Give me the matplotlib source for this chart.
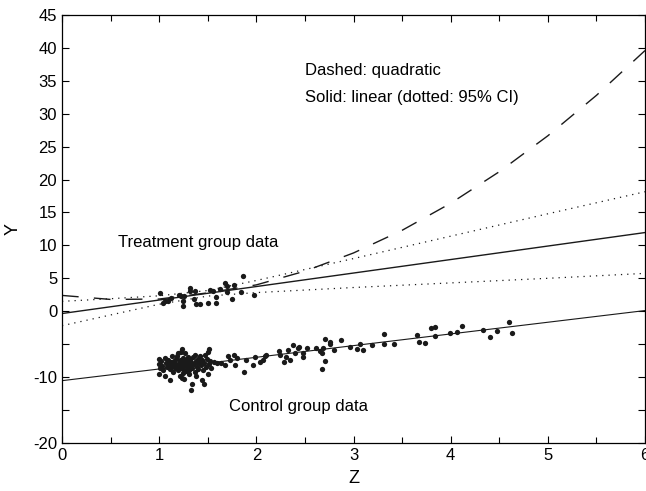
import numpy as np
import matplotlib
matplotlib.use("Agg")
import matplotlib.pyplot as plt
from matplotlib.ticker import MultipleLocator, FuncFormatter

plt.rcParams['font.family'] = ['Liberation Sans', 'DejaVu Sans']

# treatment group data (x, y)
treat_x = [1.01, 1.04, 1.06, 1.09, 1.12, 1.20, 1.22, 1.24, 1.25, 1.26,
           1.32, 1.32, 1.37, 1.36, 1.38, 1.42, 1.50, 1.52, 1.55, 1.58,
           1.58, 1.63, 1.68, 1.70, 1.70, 1.75, 1.77, 1.84, 1.86, 1.98]
treat_y = [2.7, 1.3, 1.6, 1.5, 2.0, 2.5, 2.3, 1.5, 0.8, 2.3,
           3.6, 3.1, 3.0, 1.8, 1.1, 1.1, 1.3, 3.2, 3.0, 2.2,
           1.3, 3.3, 4.3, 3.8, 2.9, 1.9, 4.0, 2.9, 5.4, 2.4]

# control group data (x, y)
ctrl_x = [1.00, 1.00, 1.01, 1.00, 1.02, 1.03, 1.04, 1.06, 1.06, 1.07,
          1.08, 1.09, 1.10, 1.11, 1.11, 1.12, 1.13, 1.13, 1.14, 1.15,
          1.16, 1.16, 1.17, 1.18, 1.18, 1.19, 1.19, 1.20, 1.20, 1.21,
          1.21, 1.22, 1.22, 1.23, 1.23, 1.23, 1.24, 1.24, 1.25, 1.25,
          1.26, 1.26, 1.27, 1.27, 1.28, 1.28, 1.29, 1.30, 1.30, 1.31,
          1.31, 1.32, 1.32, 1.33, 1.33, 1.34, 1.34, 1.35, 1.36, 1.37,
          1.37, 1.38, 1.38, 1.39, 1.40, 1.40, 1.41, 1.42, 1.43, 1.44,
          1.44, 1.45, 1.46, 1.46, 1.47, 1.48, 1.49, 1.50, 1.50, 1.51,
          1.51, 1.52, 1.53, 1.56,
          1.59, 1.64, 1.68, 1.71, 1.73, 1.77, 1.80, 1.78, 1.87, 1.89,
          1.97, 1.99, 2.04, 2.07, 2.09, 2.10, 2.23, 2.24, 2.28, 2.31,
          2.33, 2.35, 2.38, 2.40, 2.43, 2.44, 2.48, 2.48, 2.52, 2.61,
          2.65, 2.68, 2.69, 2.71, 2.71, 2.68, 2.76, 2.76, 2.80, 2.87,
          2.96, 3.04, 3.07, 3.10, 3.19, 3.31, 3.31, 3.42, 3.65, 3.67,
          3.74, 3.80, 3.84, 3.84, 3.99, 4.07, 4.12, 4.33, 4.40, 4.48,
          4.60, 4.63]
ctrl_y = [-7.2, -8.0, -8.6, -9.6, -7.6, -8.3, -9.0, -7.1, -9.9, -7.9,
          -8.5, -7.4, -8.1, -10.5, -8.8, -7.7, -6.8, -8.3, -9.2, -7.5,
          -8.0, -8.7, -7.2, -6.8, -8.4, -6.4, -9.0, -7.8, -8.2, -9.9,
          -7.4, -8.6, -6.2, -5.8, -7.9, -10.2, -8.3, -9.4, -7.1, -8.8,
          -7.6, -10.3, -6.3, -8.1, -9.1, -7.4, -8.5, -7.9, -6.9, -8.9,
          -9.6, -7.3, -8.2, -12.0, -7.7, -8.6, -11.0, -7.0, -8.0, -6.6,
          -9.3, -7.5, -9.9, -8.4, -7.2, -8.8, -7.8, -6.8, -8.2, -10.4,
          -7.4, -9.0, -11.1, -7.9, -6.6, -8.5, -7.3, -9.5, -6.2, -5.7,
          -8.0, -7.5, -8.6, -7.75,
          -7.9, -7.9, -8.2, -6.8, -7.4, -6.6, -7.1, -8.2, -9.2, -7.4,
          -8.2, -7.0, -7.65, -7.4, -6.8, -6.6, -6.1, -6.6, -7.65, -6.9,
          -5.9, -7.4, -5.1, -6.3, -5.6, -5.5, -6.3, -7.0, -5.6, -5.6,
          -6.0, -6.4, -5.6, -4.25, -7.5, -8.8, -4.6, -5.0, -5.9, -4.3,
          -5.5, -5.7, -5.0, -5.9, -5.2, -3.5, -5.0, -5.0, -3.6, -4.6,
          -4.8, -2.6, -2.4, -3.75, -3.25, -3.2, -2.2, -2.8, -3.85, -2.95,
          -1.7, -3.25]

# fitted lines
fit_x = [0, 6]
treat_lin = [-0.35, 11.95]
ctrl_lin = [-10.55, 0.1]

grid_x = [0, 0.5, 1, 1.5, 2, 2.5, 3, 3.5, 4, 4.5, 5, 5.5, 6]
ci_x = [0, 0.5, 1, 1.5, 2, 3, 4, 5, 6]
ci_upper = [1.5, 1.9, 2.34, 3.15, 4.67, 8.0, 11.4, 14.8, 18.15]
ci_lower = [-2.2, -0.57, 1.06, 2.3, 2.83, 3.6, 4.3, 5.0, 5.75]
quad = [2.4, 1.79, 1.85, 2.79, 4.0, 6.09, 8.85, 12.29, 16.4, 21.19, 26.65, 32.79, 39.6]

fig = plt.figure(figsize=(6.46, 4.91), dpi=100)
ax = fig.add_axes([0.096, 0.098, 0.9025, 0.8715])

ax.plot(fit_x, treat_lin, color='#1a1a1a', lw=1.0)
ax.plot(fit_x, ctrl_lin, color='#1a1a1a', lw=0.8)
ax.plot(ci_x, ci_upper, color='#1a1a1a', lw=0.9, linestyle=(0, (1, 4)))
ax.plot(ci_x, ci_lower, color='#1a1a1a', lw=0.9, linestyle=(0, (1, 4)))
ax.plot(grid_x, quad, color='#1a1a1a', lw=1.0, linestyle=(0, (12, 11)))

ax.plot(treat_x, treat_y, 'o', color='#1a1a1a', ms=3.8, mew=0)
ax.plot(ctrl_x, ctrl_y, 'o', color='#1a1a1a', ms=3.8, mew=0)

ax.text(2.5, 36.6, 'Dashed: quadratic', fontsize=12, va='center')
ax.text(2.5, 32.5, 'Solid: linear (dotted: 95% CI)', fontsize=12, va='center')
ax.text(0.58, 10.5, 'Treatment group data', fontsize=12, va='center')
ax.text(1.72, -14.5, 'Control group data', fontsize=12, va='center')

ax.set_xlim(0, 6)
ax.set_ylim(-20, 45)
ax.xaxis.set_major_locator(MultipleLocator(1))
ax.xaxis.set_minor_locator(MultipleLocator(0.5))
ax.yaxis.set_major_locator(MultipleLocator(5))
ax.yaxis.set_major_formatter(FuncFormatter(
    lambda v, p: '' if round(v) in (-5, -15) else '%d' % round(v)))
ax.tick_params(which='both', direction='in', top=True, right=True,
               labelsize=12, width=0.8)
ax.tick_params(which='major', length=5)
ax.tick_params(which='minor', length=4)
for s in ax.spines.values():
    s.set_linewidth(0.9)

ax.set_xlabel('Z', fontsize=13, labelpad=5)
ax.set_ylabel('Y', fontsize=13, labelpad=8)

fig.savefig('out.png', dpi=100)
